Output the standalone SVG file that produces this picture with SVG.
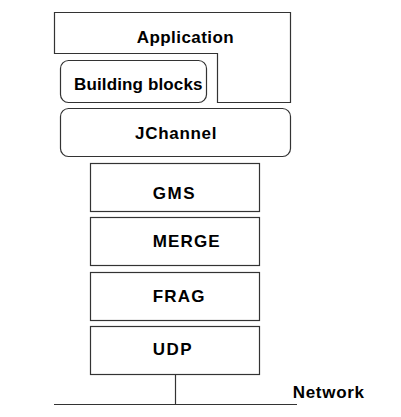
<svg xmlns="http://www.w3.org/2000/svg" width="401" height="417" viewBox="0 0 401 417">
<style>
.box{fill:#fff;stroke:#333;stroke-width:1.2}
.ln{stroke:#333;stroke-width:1.2;fill:none}
text{font-family:"Liberation Sans",Arial,sans-serif;font-weight:bold;font-size:17px;fill:#000}
</style>
<rect width="401" height="417" fill="#fff"/>
<g id="application">
<path class="box" d="M54.5,12.5 H290.5 V102.5 H217.5 V53.5 H54.5 Z"/>
<text x="136.7" y="42.5" textLength="97" lengthAdjust="spacing">Application</text>
</g>
<g id="building-blocks">
<rect class="box" x="60.5" y="60.5" width="146" height="42" rx="8"/>
<text x="74" y="90" textLength="128.5" lengthAdjust="spacing">Building blocks</text>
</g>
<g id="jchannel">
<rect class="box" x="60.5" y="108.5" width="230" height="48" rx="8"/>
<text x="135" y="138.5" textLength="81.5" lengthAdjust="spacing">JChannel</text>
</g>
<g id="gms">
<rect class="box" x="90.5" y="163.5" width="169" height="48"/>
<text x="152.7" y="199" textLength="42" lengthAdjust="spacing">GMS</text>
</g>
<g id="merge">
<rect class="box" x="90.5" y="217.5" width="169" height="48"/>
<text x="152.7" y="247" textLength="67" lengthAdjust="spacing">MERGE</text>
</g>
<g id="frag">
<rect class="box" x="90.5" y="272.5" width="169" height="48"/>
<text x="152.7" y="301.7" textLength="51.7" lengthAdjust="spacing">FRAG</text>
</g>
<g id="udp">
<rect class="box" x="90.5" y="326.5" width="169" height="48"/>
<text x="152.7" y="355" textLength="39" lengthAdjust="spacing">UDP</text>
</g>
<g id="network">
<line class="ln" x1="54" y1="404.5" x2="297" y2="404.5"/>
<text x="292.7" y="398.3" textLength="71.3" lengthAdjust="spacing">Network</text>
</g>
<g id="connectors">
<line class="ln" x1="175.5" y1="375" x2="175.5" y2="404.5"/>
</g>
</svg>
